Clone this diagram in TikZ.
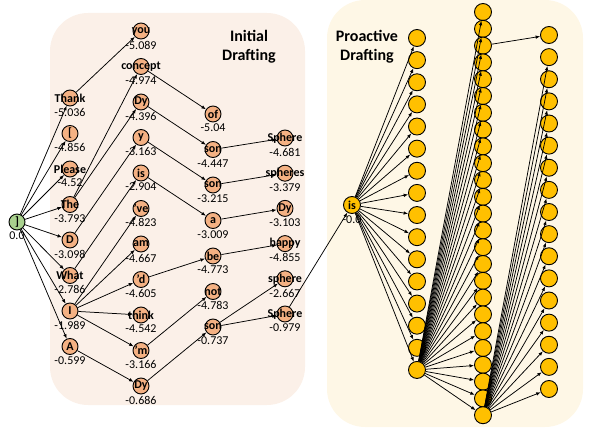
\documentclass[tikz,border=0pt]{standalone}
\usepackage{fontspec}
\setmainfont{Carlito}
\usepackage{xcolor}
\usepackage{tikz}
\usetikzlibrary{arrows.meta,positioning,calc}
\definecolor{initbg}{HTML}{FBF0E8}
\definecolor{proabg}{HTML}{FEF7E6}
\definecolor{rootfill}{HTML}{A9D18E}
\definecolor{tokfill}{HTML}{F4B183}
\definecolor{draftfill}{HTML}{FFC000}
\tikzset{%
  % classes
  tok/.style={circle, draw, line width=0.9pt, minimum size=16pt, inner sep=0pt, fill=tokfill},
  root/.style={tok, fill=rootfill},
  draft/.style={tok, fill=draftfill, minimum size=17pt},
  word/.style={font=\bfseries\fontsize{12}{12}\selectfont, inner sep=0pt},
  score/.style={font=\fontsize{12}{12}\selectfont, inner sep=0.5pt},
  % edge styles
  rel/.style={-{Latex[length=4.5pt,width=3.5pt]}, line width=0.75pt},
  % panels
  panel/.style={rounded corners=38pt},
  title/.style={font=\bfseries\fontsize{16}{19}\selectfont, align=center},
}
\newcommand{\toknode}[5][tok]{%
  % #1 = class (tok | root | draft)
  % #2 = node name
  % #3 = position
  % #4 = token
  % #5 = score
  \node[#1] (#2) at #3 {};
  \node[word] (#2-w) at (#2) {#4};
  \node[score, below=1pt of #2] (#2-s) {#5};
}

\begin{document}
\begin{tikzpicture}[x=1pt, y=-1pt]
  \useasboundingbox (0,0) rectangle (598,428);
  \path[fill=initbg, panel] (50,13) rectangle (305,405);
  \path[fill=proabg, panel] (327,0) rectangle (583,427);
  \node[title] (inittitle) at (249,47) {Initial\\Drafting};
  \node[title] (protitle) at (367,47) {Proactive\\Drafting};

  \toknode[root]{root}{(17,222)}{]}{0.0}

  \toknode{thank}{(70,98)}{Thank}{-5.036}
  \toknode{lbrack}{(70,133.5)}{[}{-4.856}
  \toknode{please}{(70,169)}{Please}{-4.52}
  \toknode{the}{(70,204.5)}{The}{-3.793}
  \toknode{d}{(70,240)}{D}{-3.098}
  \toknode{what}{(70,275.5)}{What}{-2.786}
  \toknode{i}{(70,311)}{I}{-1.989}
  \toknode{a}{(70,346.5)}{A}{-0.599}

  \toknode{you}{(141,31)}{you}{-5.089}
  \toknode{concept}{(141,66.5)}{concept}{-4.974}
  \toknode{dy1}{(141,102)}{Dy}{-4.396}
  \toknode{y}{(141,137.5)}{y}{-3.163}
  \toknode{is1}{(141,173)}{is}{-2.904}
  \toknode{ve}{(141,208.5)}{'ve}{-4.823}
  \toknode{am}{(141,244)}{am}{-4.667}
  \toknode{qd}{(141,279.5)}{'d}{-4.605}
  \toknode{think}{(141,315)}{think}{-4.542}
  \toknode{qm}{(141,350.5)}{'m}{-3.166}
  \toknode{dy2}{(141,386)}{Dy}{-0.686}

  \toknode{of}{(213,114)}{of}{-5.04}
  \toknode{son1}{(213,149.5)}{son}{-4.447}
  \toknode{son2}{(213,185)}{son}{-3.215}
  \toknode{aa}{(213,220.5)}{a}{-3.009}
  \toknode{be}{(213,256)}{be}{-4.773}
  \toknode{not}{(213,291.5)}{not}{-4.783}
  \toknode{son3}{(213,327)}{son}{-0.737}

  \toknode{sphere1}{(285,138)}{Sphere}{-4.681}
  \toknode{spheres}{(285,173.2)}{spheres}{-3.379}
  \toknode{dy3}{(285,208.4)}{Dy}{-3.103}
  \toknode{happy}{(285,243.6)}{happy}{-4.855}
  \toknode{sphere2}{(285,278.8)}{sphere}{-2.667}
  \toknode{sphere3}{(285,314)}{Sphere}{-0.979}

  \toknode[draft]{isp}{(352,205)}{is}{-0.0}
  \foreach \k in {0,...,15} \node[draft] (pa\k) at (417,{38+22.13*\k}) {};
  \foreach \k in {0,...,24} \node[draft] (pb\k) at (483,{12+16.8*\k}) {};
  \foreach \k in {0,...,16} \node[draft] (pc\k) at (549,{35+22.125*\k}) {};

  \foreach \n in {thank,lbrack,please,the,d,what,i,a}
    \draw[rel] (root) -- (\n);
  \draw[rel] (thank) -- (you);
  \draw[rel] (the) -- (concept);
  \draw[rel] (the) -- (dy1);
  \draw[rel] (d) -- (y);
  \draw[rel] (what) -- (is1);
  \foreach \n in {ve,am,qd,think,qm}
    \draw[rel] (i) -- (\n);
  \draw[rel] (a) -- (dy2);

  \draw[rel] (concept) -- (of);
  \draw[rel] (dy1) -- (son1);
  \draw[rel] (y) -- (son2);
  \draw[rel] (is1) -- (aa);
  \draw[rel] (qd) -- (be);
  \draw[rel] (qm) -- (not);
  \draw[rel] (dy2) -- (son3);

  \draw[rel] (son1) -- (sphere1);
  \draw[rel] (son2) -- (spheres);
  \draw[rel] (aa) -- (dy3);
  \draw[rel] (be) -- (happy);
  \draw[rel] (son3) -- (sphere2);
  \draw[rel] (son3) -- (sphere3);
  \draw[rel] (sphere3) -- (isp);

  \foreach \k in {0,...,15} \draw[rel] (isp) -- (pa\k);
  \foreach \k in {0,...,24} \draw[rel] (pa15) -- (pb\k);
  \draw[rel] (pb2) -- (pc0);
  \foreach \k in {1,...,16} \draw[rel] (pb24) -- (pc\k);
\end{tikzpicture}
\end{document}
